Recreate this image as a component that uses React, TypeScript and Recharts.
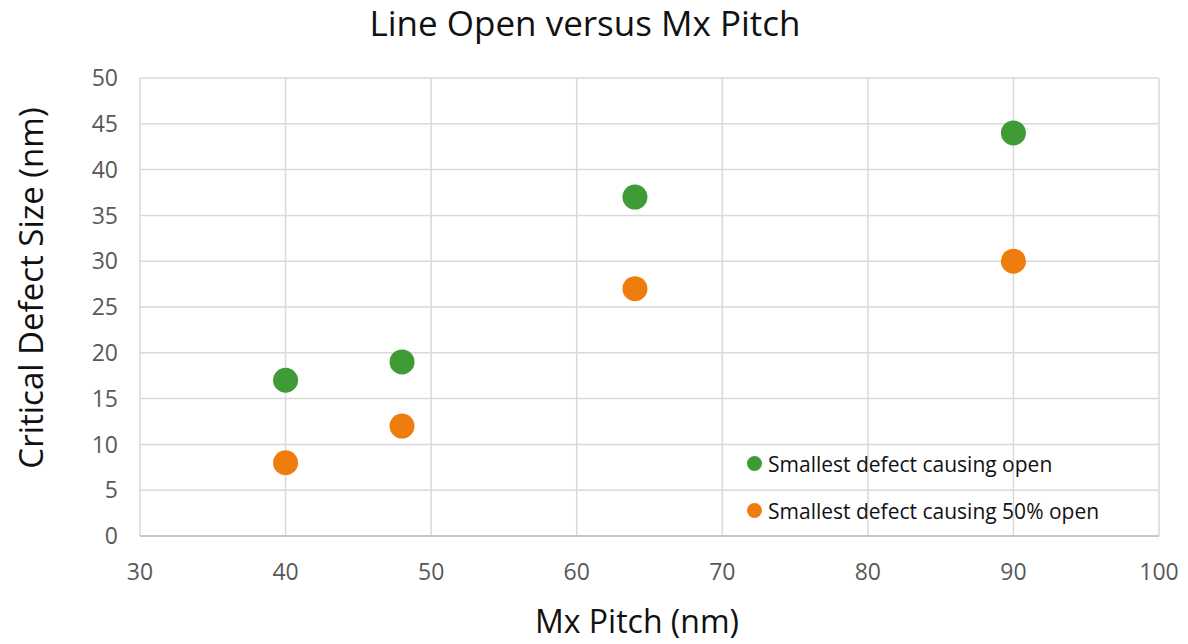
import { ScatterChart, Scatter, XAxis, YAxis, CartesianGrid, Label } from 'recharts';

const pitch = [40, 48, 64, 90];
const openSize = [17, 19, 37, 44];
const halfOpenSize = [8, 12, 27, 30];
const xTicks = [30, 40, 50, 60, 70, 80, 90, 100];
const yTicks = [0, 5, 10, 15, 20, 25, 30, 35, 40, 45, 50];

const GREEN = '#3f9b35';
const ORANGE = '#ee7d0d';
const FONT = '"Open Sans", "Noto Sans", sans-serif';

const openData = pitch.map((x, i) => ({ x, y: openSize[i] }));
const halfData = pitch.map((x, i) => ({ x, y: halfOpenSize[i] }));

const legendItems = [
  { name: 'Smallest defect causing open', color: GREEN },
  { name: 'Smallest defect causing 50% open', color: ORANGE },
];

const Dot = ({ cx, cy, fill }: any) => <circle cx={cx} cy={cy} r={12.5} fill={fill} />;

export default function App() {
  return (
    <div style={{ position: 'absolute', left: 0, top: 0, width: 1188, height: 644, background: '#fff' }}>
      <ScatterChart width={1188} height={644} margin={{ top: 78, right: 29, bottom: 0, left: 0 }}>
        <CartesianGrid stroke="#d9d9d9" strokeWidth={1.5} />
        <XAxis
          type="number"
          dataKey="x"
          domain={[30, 100]}
          ticks={xTicks}
          interval={0}
          tickSize={0}
          tickMargin={28}
          axisLine={{ stroke: '#bfbfbf', strokeWidth: 1.5 }}
          tick={{ fill: '#595959', fontSize: 23, fontFamily: FONT }}
          height={108}
        >
          <Label
            content={() => (
              <text x={637} y={633} textAnchor="middle" style={{ fill: '#111', fontSize: 32, fontFamily: FONT }}>
                Mx Pitch (nm)
              </text>
            )}
          />
        </XAxis>
        <YAxis
          type="number"
          dataKey="y"
          domain={[0, 50]}
          ticks={yTicks}
          interval={0}
          tickSize={0}
          tickMargin={22}
          axisLine={false}
          width={140}
          tick={{ fill: '#595959', fontSize: 23, fontFamily: FONT }}
        >
          <Label
            content={() => (
              <text
                x={30}
                y={288}
                transform="rotate(-90 30 288)"
                textAnchor="middle"
                dominantBaseline="central"
                style={{ fill: '#111', fontSize: 33, fontFamily: FONT }}
              >
                Critical Defect Size (nm)
              </text>
            )}
          />
        </YAxis>
        <Scatter name="Smallest defect causing open" data={openData} fill={GREEN} shape={<Dot />} isAnimationActive={false} />
        <Scatter name="Smallest defect causing 50% open" data={halfData} fill={ORANGE} shape={<Dot />} isAnimationActive={false} />
      </ScatterChart>
      <div
        style={{
          position: 'absolute',
          top: 0,
          left: 0,
          width: 1170,
          textAlign: 'center',
          fontFamily: FONT,
          fontSize: 35,
          color: '#111',
          lineHeight: '46px',
        }}
      >
        Line Open versus Mx Pitch
      </div>
      <div style={{ position: 'absolute', left: 747, top: 440, fontFamily: FONT, fontSize: 21, color: '#111' }}>
        {legendItems.map((it) => (
          <div key={it.name} style={{ display: 'flex', alignItems: 'center', height: 47 }}>
            <span style={{ width: 15, height: 15, borderRadius: '50%', background: it.color, marginRight: 6 }} />
            <span>{it.name}</span>
          </div>
        ))}
      </div>
    </div>
  );
}
